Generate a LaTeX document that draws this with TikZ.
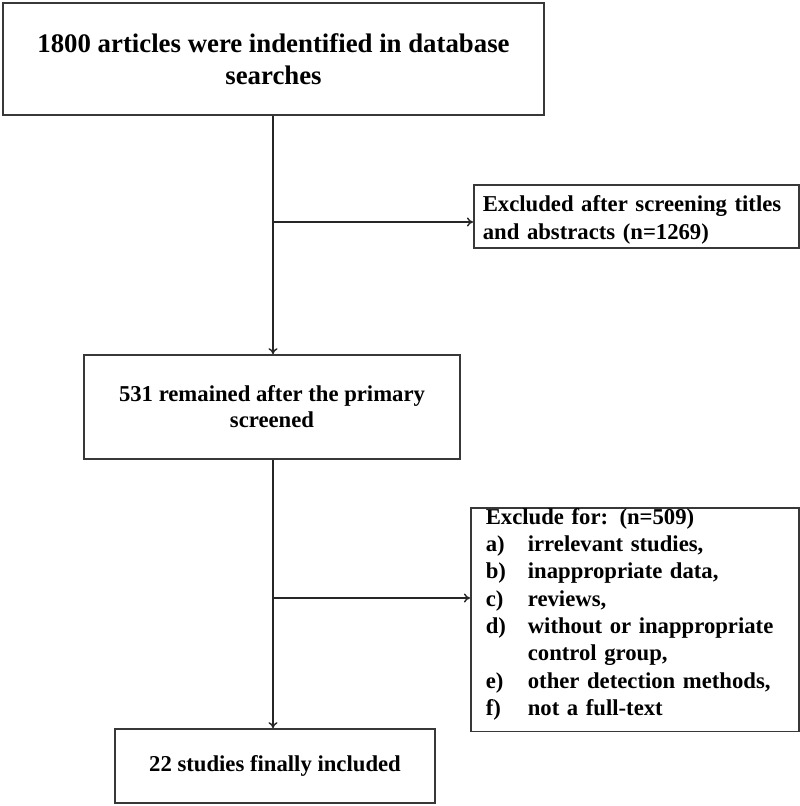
\documentclass[tikz,border=0pt]{standalone}
\usepackage{fontspec}
\setmainfont{Liberation Serif}
\usetikzlibrary{arrows.meta,calc}

\newcommand{\itm}[1]{\makebox[42pt][l]{#1}}

\tikzset{
  stagebox/.style={draw=black!78, line width=1.7pt, inner sep=0pt, align=center, font=\bfseries\fontsize{22.7}{26}\selectfont},
  sidebox/.style={draw=black!78, line width=1.7pt, inner xsep=9pt, inner ysep=0pt, align=left, font=\bfseries\fontsize{22.7}{27.3}\selectfont},
  flow/.style={-{To[length=6pt,width=9pt]}, line width=1.4pt, draw=black!85},
}

\begin{document}
\begin{tikzpicture}[x=1pt,y=-1pt]
\useasboundingbox (0,0) rectangle (800,806);

% boxes of the main column
\node[stagebox, minimum width=541, minimum height=112, font=\bfseries\fontsize{26.8}{32}\selectfont] (found) at (273.5,59)
  {1800 articles were indentified in database\\ searches};
\node[stagebox, minimum width=376, minimum height=104] (remain) at (272,407)
  {531 remained after the primary\\ screened};
\node[stagebox, minimum width=320, minimum height=74] (final) at (275,766)
  {22 studies finally included};

% boxes of the exclusions
\node[sidebox, text width=307, anchor=north west] (excl1) at (473,184)
  {\rule{0pt}{27pt}Excluded after screening titles\\
   and abstracts (n=1269)\rule[-9pt]{0pt}{0pt}};
\node[sidebox, text width=298, anchor=north west, inner xsep=15pt] (excl2) at (470,507)
  {\rule{0pt}{16.5pt}Exclude for: (n=509)\\
   \itm{a)}irrelevant studies,\\
   \itm{b)}inappropriate data,\\
   \itm{c)}reviews,\\
   \itm{d)}without or inappropriate\\
   \itm{}control group,\\
   \itm{e)}other detection methods,\\
   \itm{f)}not a full-text\rule[-16pt]{0pt}{0pt}};

% branch points on the spine
\coordinate (br1) at (273,222);
\coordinate (br2) at (273,598);

\draw[flow] (br1 |- found.south) -- (br1 |- remain.north);
\draw[flow] (br1) -- (br1 -| excl1.west);
\draw[flow] (br2 |- remain.south) -- (br2 |- final.north);
\draw[flow] (br2) -- (br2 -| excl2.west);

\end{tikzpicture}
\end{document}
